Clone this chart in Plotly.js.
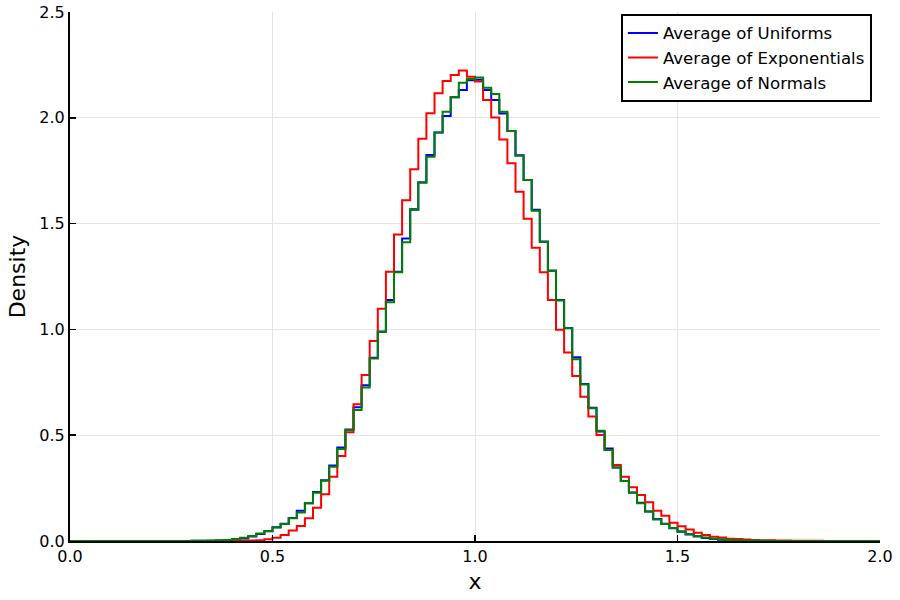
<!DOCTYPE html>
<html>
<head>
<meta charset="utf-8">
<script src="https://cdn.plot.ly/plotly-3.0.1.min.js"></script>
<style>
  html, body { margin: 0; padding: 0; background: #fff; }
  #chart { width: 900px; height: 600px; }
</style>
</head>
<body>
<div id="chart"></div>
<script>
// Histogram bins: 100 bins of width 0.02 from 0.0 to 2.0
const BIN_START = 0.0;
const BIN_WIDTH = 0.02;

// Density per bin (bin k covers [0.02k, 0.02k + 0.02])
const densUniforms = [
  0, 0, 0, 0, 0, 0, 0, 0, 0, 0,
  0, 0, 0, 0, 0, 0.001, 0.001, 0.001, 0.002, 0.004,
  0.007, 0.012, 0.021, 0.033, 0.046, 0.065, 0.081, 0.109, 0.143, 0.178,
  0.232, 0.287, 0.357, 0.442, 0.527, 0.632, 0.736, 0.866, 0.990, 1.139,
  1.272, 1.430, 1.565, 1.695, 1.824, 1.931, 2.008, 2.097, 2.131, 2.178,
  2.180, 2.131, 2.084, 2.020, 1.938, 1.823, 1.706, 1.565, 1.415, 1.278,
  1.139, 1.007, 0.868, 0.742, 0.630, 0.518, 0.437, 0.347, 0.284, 0.229,
  0.181, 0.139, 0.104, 0.082, 0.060, 0.044, 0.031, 0.021, 0.014, 0.009,
  0.006, 0.003, 0.002, 0.001, 0.001, 0, 0, 0, 0, 0,
  0, 0, 0, 0, 0, 0, 0, 0, 0, 0
];

const densExponentials = [
  0, 0, 0, 0, 0, 0, 0, 0, 0, 0,
  0, 0, 0, 0, 0, 0, 0, 0, 0, 0,
  0.001, 0.001, 0.002, 0.004, 0.008, 0.015, 0.028, 0.050, 0.071, 0.107,
  0.157, 0.221, 0.304, 0.402, 0.514, 0.646, 0.785, 0.945, 1.098, 1.273,
  1.449, 1.610, 1.757, 1.901, 2.021, 2.116, 2.174, 2.202, 2.223, 2.194,
  2.171, 2.084, 2.001, 1.898, 1.785, 1.651, 1.523, 1.386, 1.270, 1.139,
  0.998, 0.891, 0.780, 0.682, 0.588, 0.501, 0.430, 0.359, 0.304, 0.254,
  0.217, 0.183, 0.143, 0.119, 0.086, 0.070, 0.054, 0.039, 0.028, 0.020,
  0.016, 0.011, 0.009, 0.007, 0.005, 0.004, 0.003, 0.002, 0.002, 0.001,
  0.001, 0.001, 0.001, 0, 0, 0, 0, 0, 0, 0
];

const densNormals = [
  0, 0, 0, 0, 0, 0, 0, 0, 0, 0,
  0, 0, 0, 0, 0, 0.001, 0.001, 0.002, 0.003, 0.005,
  0.009, 0.015, 0.024, 0.035, 0.047, 0.064, 0.080, 0.107, 0.135, 0.178,
  0.228, 0.285, 0.351, 0.435, 0.525, 0.619, 0.726, 0.862, 0.988, 1.128,
  1.270, 1.412, 1.569, 1.693, 1.816, 1.931, 2.029, 2.097, 2.166, 2.183,
  2.191, 2.142, 2.112, 2.029, 1.938, 1.821, 1.706, 1.561, 1.413, 1.276,
  1.136, 1.005, 0.859, 0.740, 0.627, 0.521, 0.430, 0.347, 0.284, 0.228,
  0.178, 0.139, 0.102, 0.080, 0.062, 0.046, 0.033, 0.024, 0.016, 0.011,
  0.008, 0.005, 0.003, 0.002, 0.002, 0.001, 0.001, 0, 0, 0,
  0, 0, 0, 0, 0, 0, 0, 0, 0, 0
];

const seriesNames = ['Average of Uniforms', 'Average of Exponentials', 'Average of Normals'];
const seriesColors = ['#0000ff', '#ff0000', '#008000'];

const xTicks = [0, 0.5, 1.0, 1.5, 2.0];
const yTicks = [0, 0.5, 1.0, 1.5, 2.0, 2.5];

const FONT = 'DejaVu Sans, sans-serif';

// step outline: left edges plus the final right edge, last value repeated
function stepTrace(dens, name, color) {
  const x = dens.map((_, k) => BIN_START + k * BIN_WIDTH);
  x.push(BIN_START + dens.length * BIN_WIDTH);
  const y = dens.concat([dens[dens.length - 1]]);
  return {
    x: x,
    y: y,
    type: 'scatter',
    mode: 'lines',
    name: name,
    line: { color: color, width: 2, shape: 'hv' },
    hoverinfo: 'skip',
  };
}

const traces = [
  stepTrace(densUniforms, seriesNames[0], seriesColors[0]),
  stepTrace(densExponentials, seriesNames[1], seriesColors[1]),
  stepTrace(densNormals, seriesNames[2], seriesColors[2]),
];

const axisBase = {
  showline: true,
  linecolor: '#000',
  linewidth: 2,
  ticks: 'inside',
  ticklen: 6,
  tickwidth: 1.5,
  tickcolor: '#000',
  showgrid: true,
  gridcolor: '#e5e5e5',
  gridwidth: 1,
  zeroline: false,
  tickformat: '.1f',
  tickfont: { family: FONT, size: 16, color: '#000' },
  automargin: false,
};

const layout = {
  width: 900,
  height: 600,
  paper_bgcolor: '#fff',
  plot_bgcolor: '#fff',
  font: { family: FONT, size: 16, color: '#000' },
  margin: { l: 70, r: 20, t: 12, b: 59 },
  xaxis: {
    ...axisBase,
    range: [0, 2],
    tickvals: xTicks,
    title: { text: 'x', font: { family: FONT, size: 22 }, standoff: 8 },
  },
  yaxis: {
    ...axisBase,
    range: [0, 2.5],
    tickvals: yTicks,
    title: { text: 'Density', font: { family: FONT, size: 22 }, standoff: 8 },
  },
  showlegend: true,
  legend: {
    x: 0.99,
    y: 0.997,
    xanchor: 'right',
    yanchor: 'top',
    bgcolor: '#fff',
    bordercolor: '#000',
    borderwidth: 2,
    font: { family: FONT, size: 16.6, color: '#000' },
    tracegroupgap: 0,
  },
};

Plotly.newPlot('chart', traces, layout, { displayModeBar: false, staticPlot: true });
</script>
</body>
</html>
